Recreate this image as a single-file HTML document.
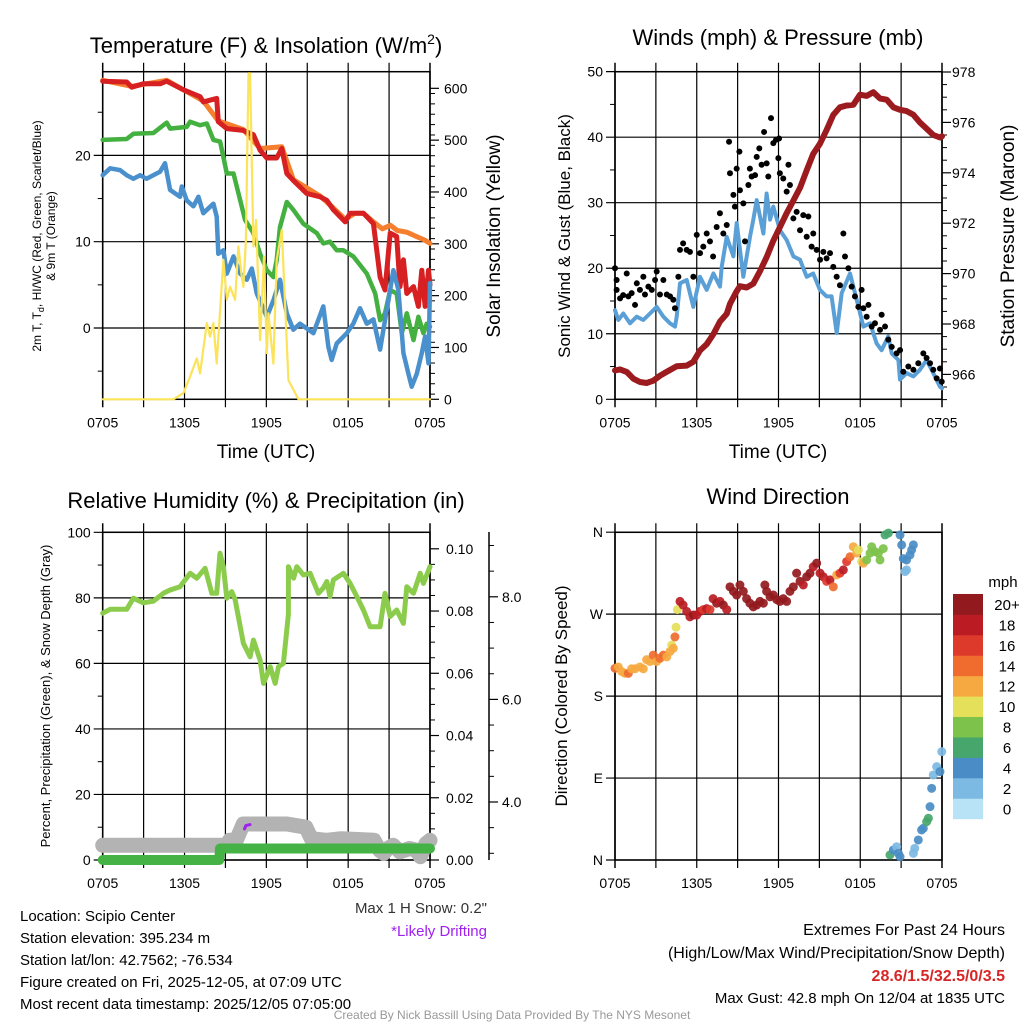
<!DOCTYPE html>
<html><head><meta charset="utf-8">
<style>
html,body{margin:0;padding:0;background:#fff;}
svg{display:block;font-family:"Liberation Sans",Arial,sans-serif;}
</style></head>
<body>
<svg id="chart" width="1024" height="1024" viewBox="0 0 1024 1024" xmlns="http://www.w3.org/2000/svg">
<rect width="1024" height="1024" fill="#fff"/>
<text x="266" y="53" font-size="22" text-anchor="middle">Temperature (F) &amp; Insolation (W/m<tspan font-size="14" dy="-9">2</tspan><tspan dy="9">)</tspan></text>
<text x="778" y="45" font-size="22" text-anchor="middle">Winds (mph) &amp; Pressure (mb)</text>
<text x="266" y="508" font-size="22" text-anchor="middle">Relative Humidity (%) &amp; Precipitation (in)</text>
<text x="778" y="504" font-size="22" text-anchor="middle">Wind Direction</text>
<text x="266" y="458" font-size="19" text-anchor="middle">Time (UTC)</text>
<text x="778" y="458" font-size="19" text-anchor="middle">Time (UTC)</text>
<text transform="translate(41,236) rotate(-90)" font-size="12" text-anchor="middle">2m T, T<tspan font-size="9" dy="3">d</tspan><tspan dy="-3">, HI/WC (Red, Green, Scarlet/Blue)</tspan></text>
<text transform="translate(55,236) rotate(-90)" font-size="12" text-anchor="middle">&amp; 9m T (Orange)</text>
<text transform="translate(500,236) rotate(-90)" font-size="19" text-anchor="middle">Solar Insolation (Yellow)</text>
<text transform="translate(570,236) rotate(-90)" font-size="17" text-anchor="middle">Sonic Wind &amp; Gust (Blue, Black)</text>
<text transform="translate(1014,236) rotate(-90)" font-size="19" text-anchor="middle">Station Pressure (Maroon)</text>
<text transform="translate(50,696) rotate(-90)" font-size="13" text-anchor="middle">Percent, Precipitation (Green), &amp; Snow Depth (Gray)</text>
<text transform="translate(567,696) rotate(-90)" font-size="17" text-anchor="middle">Direction (Colored By Speed)</text>
<text x="1003" y="587" font-size="15" text-anchor="middle">mph</text>
<g font-size="15">
<text x="20" y="921">Location: Scipio Center</text>
<text x="20" y="943">Station elevation: 395.234 m</text>
<text x="20" y="965">Station lat/lon: 42.7562; -76.534</text>
<text x="20" y="987">Figure created on Fri, 2025-12-05, at 07:09 UTC</text>
<text x="20" y="1009">Most recent data timestamp: 2025/12/05 07:05:00</text>
</g>
<text x="487" y="913" font-size="15" fill="#333" text-anchor="end">Max 1 H Snow: 0.2"</text>
<text x="487" y="936" font-size="15" fill="#a020f0" text-anchor="end">*Likely Drifting</text>
<text x="1005" y="935" font-size="16" text-anchor="end">Extremes For Past 24 Hours</text>
<text x="1005" y="958" font-size="16" text-anchor="end">(High/Low/Max Wind/Precipitation/Snow Depth)</text>
<text x="1005" y="981" font-size="16" font-weight="bold" fill="#d62728" text-anchor="end">28.6/1.5/32.5/0/3.5</text>
<text x="1005" y="1003" font-size="15" text-anchor="end">Max Gust: 42.8 mph On 12/04 at 1835 UTC</text>
<text x="512" y="1019" font-size="12" fill="#999" text-anchor="middle">Created By Nick Bassill Using Data Provided By The NYS Mesonet</text>
</svg>
<script>
// ---------- data ----------
const timeTicks = ["0705","1305","1905","0105","0705"];
const redH = [0,1.76,2.13,2.98,4.2,4.69,5.92,7.14,7.38,8.36,8.48,9.1,10.3,11.05,11.54,12.03,12.76,13.13,13.5,13.98,14.96,15.94,16.43,16.92,17.78,18.14,19.12,19.85,20.34,20.7,21.08,21.56,21.8,22.05,22.3,22.79,23.15,23.4,23.64,23.89,24];
const redV = [28.6,28.5,27.9,28.3,28.3,28.6,27.6,26.8,26.2,26.6,23.9,23.1,22.9,22.4,20.6,19.7,19.7,20.8,17.9,17.1,15.6,15.2,14.8,13.7,12.3,13.3,13.3,12.1,5.9,4.4,11.0,10.6,4.8,7.9,4.0,4.8,2.5,6.7,2.5,6.7,5.0];
const orangeH = [0,2.13,4.69,7.38,8.48,10.3,11.54,13.13,13.98,15.94,16.92,17.78,18.5,19.12,19.85,20.5,21.1,21.6,22.3,23.0,23.6,24];
const orangeV = [28.7,28.0,28.7,26.3,24.0,23.0,20.8,21.0,17.2,15.3,13.9,12.6,13.3,13.3,12.3,11.5,11.9,11.3,11.1,10.6,10.2,9.8];
const greenH = [0,1.76,2.25,3.72,4.69,4.94,6.16,6.41,7.14,7.63,8.12,8.61,8.85,9.1,9.59,10.08,10.44,11.05,11.54,12.03,12.52,12.76,13.0,13.5,13.98,14.7,15.7,16.18,16.67,17.16,17.65,18.38,19.37,19.98,20.34,20.7,21.08,21.56,21.93,22.3,22.79,23.15,23.52,23.76,24];
const greenV = [21.8,21.9,22.5,22.6,23.8,23.1,23.3,23.9,23.5,23.7,21.8,21.6,19.8,17.9,17.9,14.8,12.5,11.0,8.6,6.7,5.9,7.9,11.7,14.6,13.7,12.1,11.0,9.8,10.0,9.0,9.0,8.3,6.3,4.0,0.9,1.7,4.4,4.0,-0.6,1.7,-1.4,1.3,-0.6,0.5,0.15];
const blueH = [0,0.54,1.27,1.76,2.25,2.74,3.21,4.2,4.57,4.94,5.67,5.8,6.16,6.65,7.02,7.38,8.12,8.36,8.48,8.85,9.1,9.59,10.08,10.57,10.93,11.3,12.03,12.52,13.0,13.5,13.98,14.47,15.45,16.18,16.55,16.79,17.16,17.9,18.38,18.87,19.37,19.85,20.34,20.7,20.95,21.32,21.68,22.05,22.42,22.66,23.03,23.4,23.64,23.89,24];
const blueV = [17.7,18.5,18.3,17.7,17.3,17.7,17.3,18.1,19.1,16.0,15.2,16.4,14.8,14.1,15.2,13.3,14.4,12.9,8.6,9.0,6.3,8.3,6.3,5.6,6.9,4.0,1.3,3.2,5.6,1.7,-0.2,0.5,-0.6,2.5,-2.2,-3.7,-1.8,-0.6,0.5,2.3,0.5,1.0,-2.5,0.9,3.2,6.7,4.4,-2.9,-5.3,-6.8,-5.3,-2.9,-1.0,-4.1,5.2];
const solarH = [0,5.19,5.92,6.41,6.9,7.14,7.63,7.87,8.12,8.36,8.61,8.85,9.1,9.34,9.71,9.95,10.19,10.32,10.5,10.69,10.81,11.05,11.25,11.54,11.83,12.03,12.15,12.52,12.76,13.13,13.62,14.35,24];
const solarV = [0,0,12,44,79,50,147,121,147,69,172,269,192,217,192,295,237,217,307,629,629,295,346,114,275,89,166,69,269,327,37,0,0];
const windH = [0,0.24,0.61,1.1,1.59,2.08,2.57,3.06,3.55,4.04,4.4,4.53,4.77,5.26,5.75,6.24,6.73,7.22,7.71,7.83,8.2,8.69,8.93,9.42,9.91,10.15,10.4,10.89,11.13,11.38,11.62,12.11,12.6,13.09,13.58,14.07,14.55,15.04,15.53,15.9,16.27,16.64,17.25,17.74,18.23,18.72,19.21,19.57,20.06,20.31,20.8,20.92,21.4,21.9,22.38,22.87,23.36,23.85,24];
const windV = [13.6,12.1,13.1,11.6,12.6,12.1,13.1,14.1,12.6,11.6,11.1,12.6,17.7,18.2,14.1,18.7,16.7,19.2,17.2,20.2,24.8,21.8,26.9,18.7,24.8,27.4,30.4,25.3,31.4,27.4,29.4,25.8,24.3,21.8,21.3,18.7,19.2,16.7,15.7,15.7,10.1,16.2,19.2,15.2,11.1,11.6,8.5,7.5,9.6,7.0,6.0,3.0,4.0,3.5,4.5,6.0,4.0,1.9,1.7];
const gustH = [0,0.12,0.12,0.37,0.6,0.86,0.98,1.22,1.47,1.6,1.83,2.08,2.2,2.45,2.7,2.94,3.06,3.3,3.55,3.8,4.04,4.28,4.4,4.65,4.77,5.0,5.26,5.5,5.75,6.0,6.24,6.48,6.73,6.97,7.2,7.46,7.7,7.95,8.2,8.37,8.44,8.69,8.8,8.93,9.13,9.17,9.42,9.54,9.79,9.9,10.03,10.28,10.4,10.59,10.76,10.94,11.13,11.25,11.45,11.62,11.82,11.99,12.04,12.1,12.35,12.6,12.73,12.84,13.09,13.33,13.58,13.82,14.07,14.19,14.43,14.55,14.8,15.05,15.29,15.53,15.78,16.02,16.27,16.51,16.76,16.88,17.13,17.37,17.61,17.86,18.1,18.23,18.47,18.6,18.84,19.08,19.45,19.57,19.82,20.06,20.31,20.67,20.92,21.16,21.53,21.9,22.26,22.63,22.87,23.12,23.36,23.61,23.85,23.98];
const gustV = [20,18.2,16.7,15.4,15.9,19.2,15.7,16.2,14.4,17.7,16.7,18.7,16.0,17.2,16.7,18.2,19.5,16.0,18.2,16.0,15.7,15.2,13.9,18.7,22.8,23.8,22.8,22.5,18.7,25.1,22.3,23.3,25.3,24.1,21.8,26.3,28.4,25.3,26.6,39.3,34.5,31.2,29.4,35.2,37.8,31.9,29.9,24.1,32.7,35.2,34.0,34.2,37.0,38.3,35.8,40.8,36.0,34.0,42.9,39.1,39.6,36.8,39.8,34.5,33.7,31.7,35.8,32.7,27.6,28.6,25.8,28.1,24.8,27.9,23.3,25.3,22.8,21.3,22.5,21.5,22.3,20.2,18.7,17.4,25.3,21.8,20.0,17.2,15.7,14.1,16.7,13.9,12.6,14.4,11.1,11.6,10.6,12.9,11.1,9.1,8.0,7.0,7.5,4.2,5.0,4.5,5.5,7.0,6.3,5.5,4.5,3.2,4.7,2.7];
const presH = [0,0.37,0.86,1.35,1.83,2.32,2.81,3.3,3.79,4.53,5.26,5.75,6.24,6.73,7.22,7.71,8.2,8.44,8.93,9.17,9.66,10.15,10.64,11.13,11.62,12.11,12.6,13.09,13.58,14.07,14.55,15.04,15.53,16.02,16.51,17.0,17.49,17.98,18.47,18.96,19.45,19.94,20.43,20.92,21.4,21.9,22.38,22.87,23.36,23.85,24];
const presV = [966.16,966.2,966.1,965.83,965.7,965.66,965.75,965.95,966.1,966.32,966.35,966.5,966.95,967.2,967.6,968.1,968.4,968.8,969.3,969.5,969.45,969.6,970.1,970.65,971.3,971.85,972.4,972.9,973.4,974.1,974.75,975.15,975.7,976.3,976.6,976.67,976.7,977.1,977.05,977.2,976.95,976.9,976.6,976.5,976.45,976.3,976.0,975.75,975.5,975.4,975.45];
const rhH = [0,0.54,1.03,1.76,2.25,2.98,3.72,4.45,4.94,5.67,6.41,6.9,7.51,8.0,8.36,8.6,8.85,9.1,9.46,9.71,10.32,10.81,11.05,11.54,11.79,12.28,12.65,12.89,13.25,13.62,13.62,14.0,14.23,14.72,15.21,15.82,16.18,16.43,16.67,16.92,17.65,18.14,18.63,19.12,19.61,20.34,20.7,21.08,21.56,22.05,22.3,22.79,23.28,23.52,24];
const rhV = [75.3,76.5,76.5,76.5,79.9,78.5,79.0,81.4,82.4,83.4,87.5,86.0,89.0,81.4,81.4,93.6,89.5,79.9,81.9,79.5,66.1,62.0,67.1,61.0,53.9,59.0,53.9,59.0,60.0,75.0,89.5,86.0,89.5,87.0,87.5,81.4,83.0,85.0,80.4,85.5,87.5,84.4,80.4,76.3,71.2,71.2,81.4,74.3,76.3,72.2,83.4,81.4,87.5,84.4,89.5];
const snowH = [0,8.6,9.05,9.3,9.8,10.3,13.5,14.9,15.3,16.4,17.5,19.9,20.3,20.6,20.9,21.3,21.8,22.5,23.0,23.3,23.7,24];
const snowV = [4.5,4.5,4.5,6.0,6.0,11.0,11.0,10.0,6.5,6.0,6.5,6.0,3.0,2.0,3.5,4.5,2.5,3.5,3.0,1.0,5.0,6.0];
const precipH = [0,8.55,8.6,24];
const precipV = [0,0,3.5,3.5];
const driftH = [10.4,10.5,10.8];
const driftV = [9.5,10.5,10.8];
const dirH = [0,0.24,0.49,0.73,0.98,1.22,1.47,1.83,2.08,2.32,2.57,2.81,3.06,3.3,3.55,3.8,4.04,4.16,4.28,4.4,4.48,4.58,4.77,5.0,5.26,5.5,5.75,6.0,6.24,6.48,6.73,6.97,7.2,7.46,7.71,7.95,8.2,8.44,8.69,8.93,9.17,9.42,9.66,9.9,10.15,10.4,10.64,10.89,11.0,11.13,11.38,11.62,11.87,12.1,12.35,12.6,12.84,13.09,13.33,13.58,13.82,14.07,14.31,14.55,14.8,15.05,15.29,15.53,15.78,16.02,16.27,16.51,16.76,17.0,17.25,17.49,17.74,17.86,18.1,18.23,18.47,18.72,18.84,19.08,19.33,19.45,19.69,19.82,20.06,20.92,21.04,21.16,21.4,21.4,21.28,21.65,21.77,21.9,20.18,20.43,20.67,20.8,20.92,21.9,22.0,22.26,22.5,22.63,22.87,23.0,23.12,23.24,23.36,23.61,23.85,23.98];
const dirD = [210.5,212,207,205,205,210,210,212,210,220,218,225,218,221.5,225,223,229,236,232.5,245,255.6,275,284,280,273,267,269,269,273,275,276,275,287,282,284,280,275,300,295,291,302,295,287,282,278,280,284,282,302,295,289,291,286,284,287,284,295,300,315,306,302,311,315,322,326,315,311,306,307.6,300,313,315,318.6,327.7,333,344,337,340.5,327.7,326,329.5,337,344,338.7,337,329.5,342,357,359,357,346,331,329.5,318.6,316.7,335,340.5,346,5.5,11,14.6,7.3,3.7,7.3,12.8,22,33,34.8,42,45.8,58.6,78.7,93.4,102.5,97,119];
const dirS = [14,12,12,12,14,12,12,12,12,12,12,14,12,14,14,12,12,10,12,14,10,10,18,18,18,18,20,18,18,16,18,16,18,20,18,20,18,20,20,20,20,20,20,20,20,20,20,20,20,20,20,20,20,20,20,20,20,20,20,20,18,20,20,18,20,18,18,16,18,14,12,16,18,16,14,12,12,10,10,12,8,8,8,8,8,7,8,6,6,4,4,4,4,2,2,4,4,4,6,4,2,4,4,2,2,4,4,4,6,6,4,4,2,2,4,2];
const speedLabels = ["0","2","4","6","8","10","12","14","16","18","20+"];
const speedColors = ["#b8e3f7","#7cb9e3","#4a8dc6","#47a66b","#7dc24a","#e5e05a","#f5a940","#ef6b2e","#de3a2c","#bb1c24","#921a1e"];
const tempTicks = [0,10,20];
const solarTicks = [0,100,200,300,400,500,600];
const windTicks = [0,10,20,30,40,50];
const presTicks = [966,968,970,972,974,976,978];
const rhTicks = [0,20,40,60,80,100];
const precipTicks = ["0.00","0.02","0.04","0.06","0.08","0.10"];
const snowTicks = ["4.0","6.0","8.0"];
const dirLabels = ["N","E","S","W","N"];

// ---------- scales ----------
const svg = document.getElementById('chart');
const NS = 'http://www.w3.org/2000/svg';
const xL = h => 102.7 + h*13.637;
const xR = h => 615 + h*13.625;
const yT = v => 328 - v*8.63;
const yS = w => 399.3 - w*0.5183;
const yW = v => 399.3 - v*6.553;
const yP = p => 374.4 - (p-966)*25.2;
const yR = v => 860 - v*3.277;
const yPr = v => 860 - v*3112;
const ySn = v => 802 - (v-4)*51.3;
const yD = d => 860 - d*0.9106;

function mk(tag, attrs){
  const e = document.createElementNS(NS, tag);
  for (const k in attrs) e.setAttribute(k, attrs[k]);
  svg.appendChild(e);
  return e;
}
function pathD(H, V, fx, fy){
  return H.map((h,i)=>(i?'L':'M')+fx(h).toFixed(1)+','+fy(V[i]).toFixed(1)).join('');
}

// ---------- axes frames ----------
function frame(prefix, x0, x1, y0, y1, fx, hGrid, fy, leftLabels){
  for (let k=0;k<=8;k++){
    const x = fx(k*3);
    const g = mk('line',{x1:x,y1:y0-9,x2:x,y2:y1+8,stroke:'#000','stroke-width':(k===0||k===8)?1.5:1.2});
    
    
  }
  timeTicks.forEach((t,i)=>{
    const tx = mk('text',{x:fx(i*6),y:y1+28,'font-size':14,'text-anchor':'middle'});
    tx.textContent = t;
    
    
  });
  hGrid.forEach((v,i)=>{
    const y = fy(v);
    const l = mk('line',{x1:x0-9,y1:y,x2:x1,y2:y,stroke:'#000','stroke-width':1.2});
    
    
    const tx = mk('text',{x:x0-12,y:y+5,'font-size':14,'text-anchor':'end'});
    tx.textContent = leftLabels[i];
    
    
  });
  const b = mk('rect',{x:x0,y:y0,width:x1-x0,height:y1-y0,fill:'none',stroke:'#000','stroke-width':1.5});
  
  
}
function minorLeft(prefix, x0, fy, vals){
  vals.forEach(v=>{
    const l = mk('line',{x1:x0-5,y1:fy(v),x2:x0,y2:fy(v),stroke:'#000','stroke-width':1});
    
    
  });
}
function rightAxis(prefix, x1, fy, majors, labels, minors, lx){
  minors.forEach(v=>{
    const l = mk('line',{x1:x1,y1:fy(v),x2:x1+5,y2:fy(v),stroke:'#000','stroke-width':1});
    
    
  });
  majors.forEach((v,i)=>{
    const l = mk('line',{x1:x1,y1:fy(v),x2:x1+9,y2:fy(v),stroke:'#000','stroke-width':1.2});
    
    
    const tx = mk('text',{x:lx,y:fy(v)+5,'font-size':14});
    tx.textContent = labels[i];
    
    
  });
}

// Panel 1
frame('p1',102.7,430,71.7,399.3,xL,tempTicks,yT,tempTicks.map(String));
minorLeft('p1',102.7,yT,[-5,5,15,25]);
rightAxis('p1',430,yS,solarTicks,solarTicks.map(String),Array.from({length:30},(_,i)=>i*20+10).filter(v=>v%100),444);
// Panel 2
frame('p2',615,942,71.7,399.3,xR,windTicks,yW,windTicks.map(String));
minorLeft('p2',615,yW,[5,15,25,35,45]);
rightAxis('p2',942,yP,presTicks,presTicks.map(String),Array.from({length:26},(_,i)=>965+i*0.5).filter(v=>v%2),952);
// Panel 3
frame('p3',102.7,430,532.3,860,xL,rhTicks,yR,rhTicks.map(String));
minorLeft('p3',102.7,yR,[10,30,50,70,90]);
rightAxis('p3',430,yPr,[0,0.02,0.04,0.06,0.08,0.1],precipTicks,Array.from({length:21},(_,i)=>i*0.005).filter(v=>Math.abs(v*50-Math.round(v*50))>0.01),446);
{
  const l = mk('line',{x1:489,y1:532,x2:489,y2:860,stroke:'#000','stroke-width':1.5});
  
  
  [3,3.5,4.5,5,5.5,6.5,7,7.5,8.5,9].forEach(v=>{
    const m = mk('line',{x1:489,y1:ySn(v),x2:494,y2:ySn(v),stroke:'#000','stroke-width':1});
    
    
  });
  snowTicks.forEach(s=>{
    const v = parseFloat(s);
    const m = mk('line',{x1:489,y1:ySn(v),x2:498,y2:ySn(v),stroke:'#000','stroke-width':1.2});
    
    
    const tx = mk('text',{x:502,y:ySn(v)+5,'font-size':14});
    tx.textContent = s;
    
    
  });
}
// Panel 4
frame('p4',615,942,532.3,860,xR,[0,90,180,270,360],yD,dirLabels.slice().reverse().reverse());
minorLeft('p4',615,yD,[]);

// ---------- series ----------
function line(H,V,fx,fy,color,w,name){
  const p = mk('path',{d:pathD(H,V,fx,fy),fill:'none',stroke:color,'stroke-width':w,'stroke-linejoin':'round','stroke-linecap':'round'});
  
  
  return p;
}
line(orangeH,orangeV,xL,yT,'#f57f2e',5,'temp-9m-line');
line(redH,redV,xL,yT,'#d62022',5,'temp-2m-line');
line(greenH,greenV,xL,yT,'#43b040',4.5,'dewpoint-line');
line(blueH,blueV,xL,yT,'#4a90cc',4.5,'windchill-line');
line(solarH,solarV,xL,yS,'#fbe35a',2.2,'solar-insolation-line');

line(windH,windV,xR,yW,'#5a9fd6',4,'sonic-wind-line');
line(presH,presV,xR,yP,'#9b1b1e',6,'pressure-line');
gustH.forEach((h,i)=>{
  const c = mk('circle',{cx:xR(h),cy:yW(gustV[i]),r:3,fill:'#000'});
  
  
});

line(snowH,snowV,xL,yR,'#b3b3b3',15,'snow-depth-line');
line(driftH,driftV,xL,yR,'#a020f0',3,'drifting-snow-mark');
line(precipH,precipV,xL,yR,'#45b245',10,'precipitation-line');
line(rhH,rhV,xL,yR,'#8ccc4c',5,'relative-humidity-line');

dirH.forEach((h,i)=>{
  const bin = Math.min(10, Math.round(dirS[i]/2));
  const c = mk('circle',{cx:xR(h),cy:yD(dirD[i]),r:4.5,fill:speedColors[bin],'fill-opacity':0.92});
  
  
});

// colorbar
speedLabels.forEach((s,i)=>{
  const y = 818.7 - (i+1)*20.43;
  const r = mk('rect',{x:953,y:y,width:30,height:20.9,fill:speedColors[i]});
  
  
  const tx = mk('text',{x:1007,y:y+16,'font-size':15,'text-anchor':'middle'});
  tx.textContent = s;
  
  
});
</script>
</body></html>
